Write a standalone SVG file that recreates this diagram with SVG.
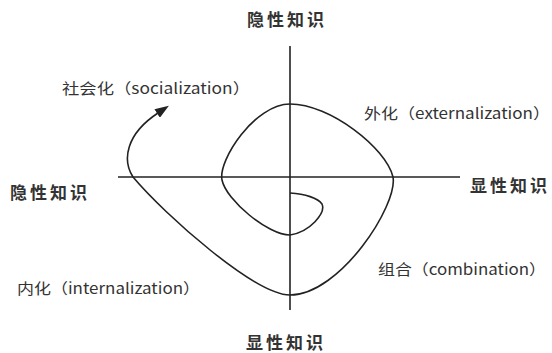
<svg xmlns="http://www.w3.org/2000/svg" width="552" height="353" viewBox="0 0 552 353">
<style>
.ax{stroke:#222;stroke-width:1.6;fill:none}
.sp{stroke:#222;stroke-width:1.6;fill:none}
.t{font-family:"Noto Sans CJK SC","Liberation Sans",sans-serif;fill:#333;font-size:15px}
.h{font-family:"Noto Sans CJK SC","Liberation Sans",sans-serif;fill:#333;font-size:17px;letter-spacing:3px;font-weight:bold}
</style>
<defs>
<marker id="ah" markerWidth="14" markerHeight="10" refX="1" refY="5" orient="auto" markerUnits="userSpaceOnUse">
<path d="M0,0 L14,5 L0,10 Z" fill="#222"/>
</marker>
</defs>
<g id="connectors">
<line class="ax" x1="118" y1="177" x2="460" y2="177"/>
<line class="ax" x1="290" y1="46" x2="290" y2="310"/>
<path class="sp" marker-end="url(#ah)" d="M290,193 C305,194 318,198 322,204 C326,213 310,232 290,235 C268,235 226,200 222,180 C218,160 255,104 290,104 C330,104 386,148 393,177 C398,205 340,295 290,295 C255,295 165,215 133,177 C122,160 126,134 158,113"/>
</g>
<g id="top-label"><text class="h" x="247" y="26">隐性知识</text></g>
<g id="bottom-label"><text class="h" x="246" y="349">显性知识</text></g>
<g id="left-label"><text class="h" x="10" y="199">隐性知识</text></g>
<g id="right-label"><text class="h" x="470" y="192">显性知识</text></g>
<g id="socialization"><text class="t" x="62" y="94" textLength="188" lengthAdjust="spacingAndGlyphs">社会化（socialization）</text></g>
<g id="externalization"><text class="t" x="364" y="119" textLength="186" lengthAdjust="spacingAndGlyphs">外化（externalization）</text></g>
<g id="internalization"><text class="t" x="17" y="294" textLength="183" lengthAdjust="spacingAndGlyphs">内化（internalization）</text></g>
<g id="combination"><text class="t" x="378" y="275" textLength="168" lengthAdjust="spacingAndGlyphs">组合（combination）</text></g>
</svg>
